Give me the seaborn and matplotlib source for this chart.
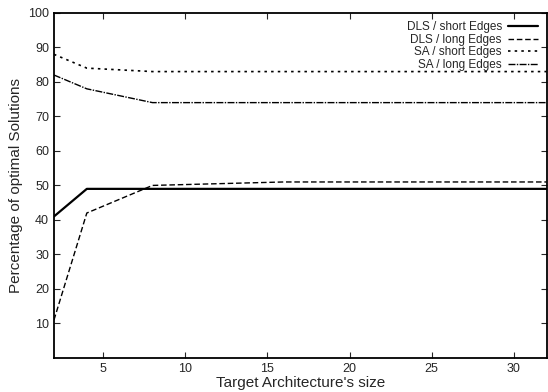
import matplotlib
matplotlib.use("Agg")
import matplotlib.pyplot as plt
import seaborn as sns
import pandas as pd

sizes = [2, 4, 8, 16, 32]
dls_short = [41, 49, 49, 49, 49]
dls_long = [11, 42, 50, 51, 51]
sa_short = [88, 84, 83, 83, 83]
sa_long = [82, 78, 74, 74, 74]
labels = ["DLS / short Edges", "DLS / long Edges", "SA / short Edges", "SA / long Edges"]
xticks = [5, 10, 15, 20, 25, 30]
yticks = [10, 20, 30, 40, 50, 60, 70, 80, 90, 100]

sns.set_style("ticks")
plt.rcParams['font.family'] = ['Liberation Sans', 'DejaVu Sans']

fig = plt.figure(figsize=(5.48, 3.92), dpi=100)
ax = fig.add_axes([0.0985, 0.087, 0.899, 0.880])

series = [dls_short, dls_long, sa_short, sa_long]
styles = [dict(ls="-", lw=1.6), dict(ls=(0, (4, 2)), lw=1.0),
          dict(ls=(0, (1.5, 2.5)), lw=1.2), dict(ls=(0, (5, 1, 1, 1)), lw=1.0)]
for vals, lab, st in zip(series, labels, styles):
    df = pd.DataFrame({"x": sizes, "y": vals})
    sns.lineplot(data=df, x="x", y="y", ax=ax, color="black", label=lab,
                 linestyle=st["ls"], linewidth=st["lw"])

ax.set_xlim(2, 32)
ax.set_ylim(0, 100)
ax.set_xticks(xticks)
ax.set_yticks(yticks)
ax.tick_params(direction="in", top=True, right=True, labelsize=9, length=4)
for s in ax.spines.values():
    s.set_linewidth(1.3)
    s.set_color("black")
ax.set_xlabel("Target Architecture's size", fontsize=11, labelpad=1)
ax.set_ylabel("Percentage of optimal Solutions", fontsize=11, labelpad=4)
ax.legend(loc="upper right", frameon=False, markerfirst=False, fontsize=8.5,
          handlelength=2.6, labelspacing=0.05, borderaxespad=0.3, handletextpad=0.5)
fig.savefig("out.png", dpi=100)
